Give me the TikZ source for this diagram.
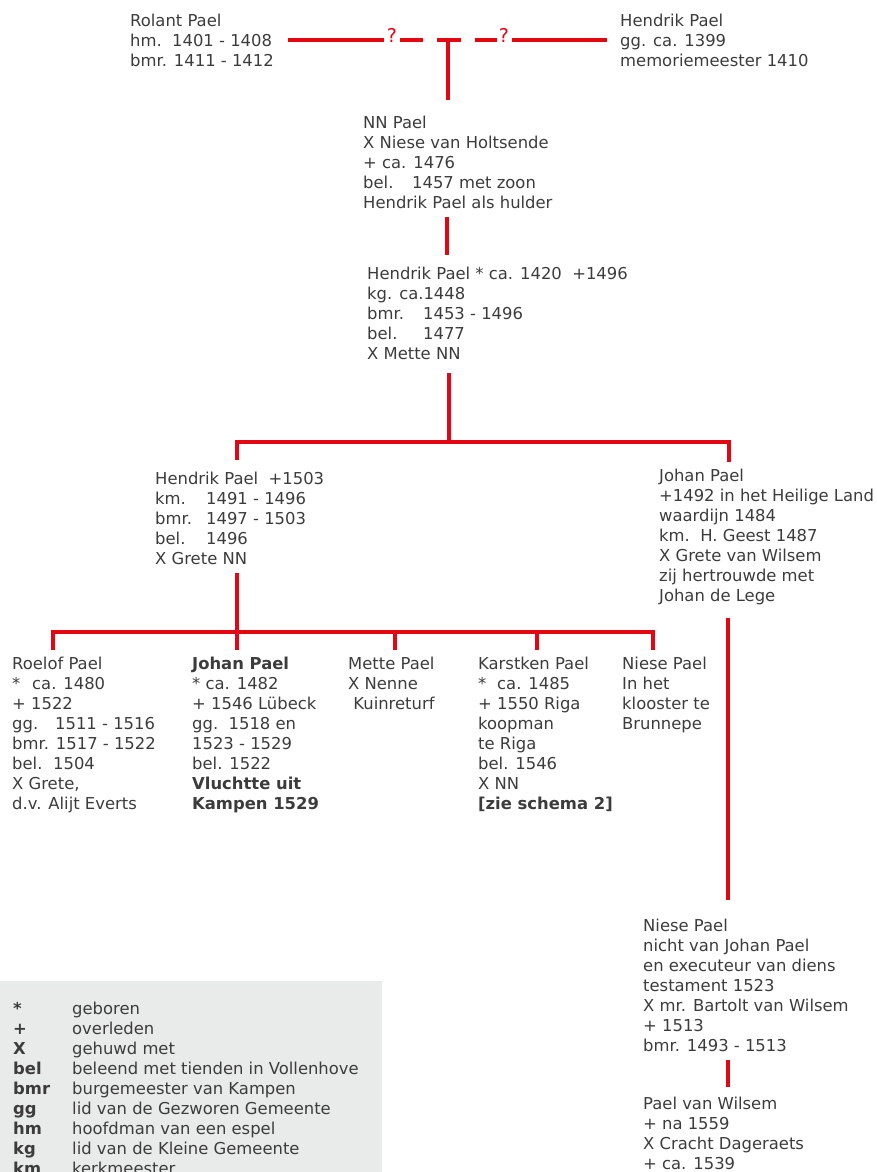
\documentclass[tikz,border=0pt]{standalone}
\usepackage{fontspec}
\setmainfont{DejaVu Sans}
\definecolor{pred}{HTML}{E30613}
\definecolor{ptext}{HTML}{3C3C3C}
\definecolor{legbg}{HTML}{E9EBEB}
\newcommand{\lbl}[2]{\makebox[#1][l]{#2}}
\begin{document}
\begin{tikzpicture}[x=1pt,y=-1pt,
  person/.style={anchor=north west, inner sep=0pt, align=left, text=ptext,
    font=\fontsize{16.4}{20}\selectfont},
  link/.style={draw=pred, line width=4.5pt, line join=miter},
  qmark/.style={text=pred, font=\fontsize{19}{19}\selectfont, inner sep=0pt, anchor=center}]
\useasboundingbox (0,0) rectangle (877,1172);

% legend background
\fill[legbg] (0,981) rectangle (382,1172);

% ---------- people ----------
\node[person] (rolant) at (130,14) {Rolant Pael\\hm.\ \ 1401 - 1408\\bmr. 1411 - 1412};
\node[person] (hendrik0) at (620,14) {Hendrik Pael\\gg. ca. 1399\\memoriemeester 1410};
\node[person] (nn) at (363,116) {NN Pael\\X Niese van Holtsende\\+ ca. 1476\\\lbl{49pt}{bel.}1457 met zoon\\Hendrik Pael als hulder};
\node[person] (hendrik1) at (367,267) {Hendrik Pael * ca. 1420\ \ +1496\\kg. ca.1448\\\lbl{56pt}{bmr.}1453 - 1496\\\lbl{56pt}{bel.}1477\\X Mette NN};
\node[person] (hendrik2) at (155,472) {Hendrik Pael\ \ +1503\\\lbl{51pt}{km.}1491 - 1496\\\lbl{51pt}{bmr.}1497 - 1503\\\lbl{51pt}{bel.}1496\\X Grete NN};
\node[person] (johan1) at (659,469) {Johan Pael\\+1492 in het Heilige Land\\waardijn 1484\\km.\ \ H. Geest 1487\\X Grete van Wilsem\\zij hertrouwde met\\Johan de Lege};
\node[person] (roelof) at (12,657) {Roelof Pael\\\lbl{20pt}{*}ca. 1480\\+ 1522\\\lbl{43pt}{gg.}1511 - 1516\\bmr. 1517 - 1522\\\lbl{41pt}{bel.}1504\\X Grete,\\d.v. Alijt Everts};
\node[person] (johan2) at (192,657) {\textbf{Johan Pael}\\* ca. 1482\\+ 1546 Lübeck\\gg.\ \ 1518 en\\1523 - 1529\\bel. 1522\\\textbf{Vluchtte uit}\\\textbf{Kampen 1529}};
\node[person] (mette) at (348,657) {Mette Pael\\X Nenne\\\ Kuinreturf};
\node[person] (karstken) at (478,657) {Karstken Pael\\\lbl{19pt}{*}ca. 1485\\+ 1550 Riga\\koopman\\te Riga\\bel. 1546\\X NN\\\textbf{[zie schema 2]}};
\node[person] (niese1) at (622,657) {Niese Pael\\In het\\klooster te\\Brunnepe};
\node[person] (niese2) at (643,919) {Niese Pael\\nicht van Johan Pael\\en executeur van diens\\testament 1523\\X mr. Bartolt van Wilsem\\+ 1513\\bmr. 1493 - 1513};
\node[person] (paelvw) at (643,1097) {Pael van Wilsem\\+ na 1559\\X Cracht Dageraets\\+ ca. 1539};

% ---------- legend ----------
\node[person, font=\fontsize{16.4}{20}\selectfont\bfseries] (legsym) at (13,1002)
  {*\\+\\X\\bel\\bmr\\gg\\hm\\kg\\km};
\node[person] (legtxt) at (72,1002)
  {geboren\\overleden\\gehuwd met\\beleend met tienden in Vollenhove\\burgemeester van Kampen\\lid van de Gezworen Gemeente\\hoofdman van een espel\\lid van de Kleine Gemeente\\kerkmeester};

% ---------- top uncertain parentage ----------
\node[qmark] (q1) at (392,35) {?};
\node[qmark] (q2) at (504,35) {?};
\coordinate (t0) at (288,40);
\coordinate (t1) at (384,40);
\coordinate (t2) at (400,40);
\coordinate (t3) at (423,40);
\coordinate (tb0) at (437,40);
\coordinate (tb1) at (461,40);
\coordinate (tm) at (448,40);
\coordinate (tn) at (448,100);
\coordinate (t4) at (475,40);
\coordinate (t5) at (497,40);
\coordinate (t6) at (512,40);
\coordinate (t7) at (607,40);
\draw[link] (t0) -- (t1);
\draw[link] (t2) -- (t3);
\draw[link] (tb0) -- (tb1);
\draw[link] (tm) -- (tn);
\draw[link] (t4) -- (t5);
\draw[link] (t6) -- (t7);

% NN -> Hendrik
\coordinate (a0) at (447,217);
\coordinate (a1) at (447,255);
\draw[link] (a0) -- (a1);

% Hendrik -> two sons
\coordinate (b0) at (449,373);
\coordinate (b1) at (449,442);
\coordinate (bl) at (237,460);
\coordinate (br) at (729,462);
\draw[link] (b0) -- (b1);
\draw[link] (bl) -- (237,442) -- (729,442) -- (br);

% Hendrik (+1503) -> children
\coordinate (c0) at (237,573);
\coordinate (c1) at (237,650);
\draw[link] (c0) -- (c1);
\draw[link] (53,650) -- (53,632) -- (653,632) -- (653,650);
\draw[link] (395,632) -- (395,650);
\draw[link] (537,632) -- (537,650);

% Johan -> Niese -> Pael van Wilsem
\coordinate (d0) at (728,618);
\coordinate (d1) at (728,900);
\draw[link] (d0) -- (d1);
\coordinate (e0) at (728,1060);
\coordinate (e1) at (728,1087);
\draw[link] (e0) -- (e1);
\end{tikzpicture}
\end{document}
